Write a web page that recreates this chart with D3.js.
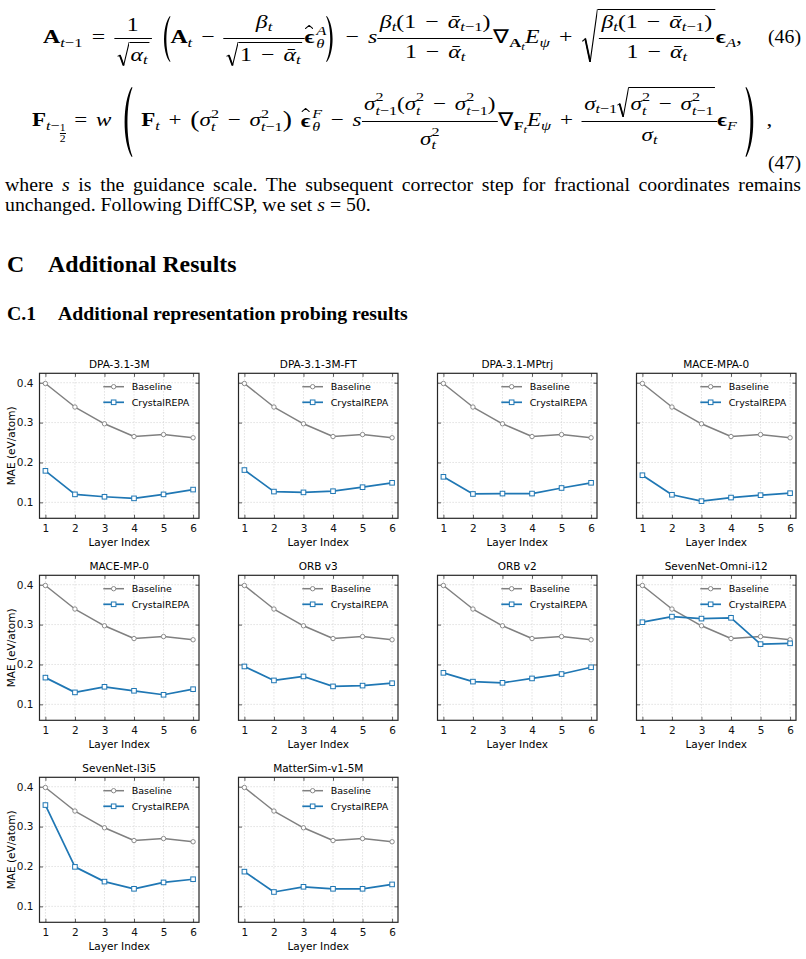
<!DOCTYPE html>
<html>
<head>
<meta charset="utf-8">
<script src="https://cdn.jsdelivr.net/npm/d3@7"></script>
<style>
  html, body { margin: 0; padding: 0; background: #fff; }
  body { width: 806px; height: 959px; position: relative; overflow: hidden;
         font-family: 'Liberation Serif', 'Times New Roman', serif; color: #000; }
  .tx { position: absolute; white-space: nowrap; font-size: 19.8px; line-height: 1.2; }
  .h1 { font-size: 23.8px; font-weight: bold; }
  .h2 { font-size: 19.8px; font-weight: bold; }
  .eq { position: absolute; white-space: nowrap; font-size: 19px; line-height: 1; word-spacing: 2.5px;
        transform-origin: 0 0; }
  .eq i { font-style: italic; }
  .eq b { font-weight: bold; font-style: normal; }
  .bl { display: inline-block; width: 0; height: 0; vertical-align: baseline; }
  .sb { font-size: 70%; vertical-align: -0.25em; word-spacing: 0; }
  .sb2 { font-size: 78%; vertical-align: -0.25em; }
  .ss { display: inline-block; font-size: 70%; line-height: 1; vertical-align: -0.35em; text-align: left; word-spacing: 0; }
  .ss > span { display: block; }
  .hat { position: relative; display: inline-block; margin-right: 1.5px; }
  .hat > .hc { position: absolute; left: 50%; top: -0.12em; width: 0.36em; height: 0.2em; margin-left: -0.18em;
               background-repeat: no-repeat; background-size: 100% 100%; }
  .fr { display: inline-block; vertical-align: 0px; text-align: center; }
  .fr > .n { display: block; border-bottom: 0.8px solid #000; padding: 0 2px 4px; line-height: 1; }
  .fr > .d { display: block; padding: 3px 2px 0; line-height: 1; }
  .tfr { display: inline-flex; flex-direction: column; font-size: 72%; line-height: 1; vertical-align: -0.1em; text-align: center; }
  .tfr > span:first-child { border-bottom: 0.6px solid #000; }
  .rad { display: inline-block; padding-left: 10px; background-repeat: no-repeat;
         background-position: 0 0; background-size: 10px 100%; }
  .rad.big { padding-left: 13px; background-size: 13px 100%; }
  .ri { display: inline-block; border-top: 0.8px solid #000; padding: 2px 1px 0 1px; }
  .bp { display: inline-block; vertical-align: middle; background-repeat: no-repeat; background-size: 100% 100%; }
  .mp { font-size: 120%; vertical-align: -0.05em; }
  #fig { position: absolute; left: 0; top: 0; }
</style>
</head>
<body>
<div id="eq46" class="eq"></div>
<div id="eq47" class="eq"></div>
<div id="n46" class="tx">(46)</div>
<div id="n47" class="tx">(47)</div>
<div id="p1" class="tx">where <i>s</i> is the guidance scale. The subsequent corrector step for fractional coordinates remains</div>
<div id="p2" class="tx">unchanged. Following DiffCSP, we set <i>s</i> = 50.</div>
<div id="h1a" class="tx h1">C</div>
<div id="h1b" class="tx h1">Additional Results</div>
<div id="h2a" class="tx h2">C.1</div>
<div id="h2b" class="tx h2">Additional representation probing results</div>
<svg id="fig" width="806" height="959"></svg>
<script>
// ---- data ----
const layers = [1, 2, 3, 4, 5, 6];
const yTicks = [0.1, 0.2, 0.3, 0.4];
const models = ['DPA-3.1-3M', 'DPA-3.1-3M-FT', 'DPA-3.1-MPtrj', 'MACE-MPA-0',
                'MACE-MP-0', 'ORB v3', 'ORB v2', 'SevenNet-Omni-i12',
                'SevenNet-l3i5', 'MatterSim-v1-5M'];
const seriesNames = ['Baseline', 'CrystalREPA'];

const baselineMae = [0.398, 0.339, 0.297, 0.265, 0.270, 0.262];

const repaDpa3m = [0.179, 0.120, 0.114, 0.110, 0.120, 0.132];
const repaDpa3mFt = [0.181, 0.127, 0.125, 0.128, 0.138, 0.149];
const repaDpaMptrj = [0.164, 0.121, 0.122, 0.122, 0.136, 0.149];
const repaMaceMpa0 = [0.168, 0.119, 0.103, 0.112, 0.118, 0.123];
const repaMaceMp0 = [0.167, 0.130, 0.144, 0.134, 0.124, 0.138];
const repaOrbV3 = [0.195, 0.160, 0.170, 0.145, 0.147, 0.153];
const repaOrbV2 = [0.179, 0.157, 0.154, 0.165, 0.176, 0.193];
const repaSevenOmni = [0.306, 0.320, 0.315, 0.317, 0.251, 0.253];
const repaSevenL3i5 = [0.354, 0.199, 0.162, 0.144, 0.160, 0.168];
const repaMatterSim = [0.187, 0.136, 0.149, 0.144, 0.144, 0.155];

const repaSeries = [repaDpa3m, repaDpa3mFt, repaDpaMptrj, repaMaceMpa0, repaMaceMp0,
                    repaOrbV3, repaOrbV2, repaSevenOmni, repaSevenL3i5, repaMatterSim];

// ---- equations ----
const I = s => `<i>${s}</i>`;
const B = s => `<b>${s}</b>`;
const sb = s => `<span class="sb">${s}</span>`;
const sb2 = s => `<span class="sb2">${s}</span>`;
const ss = (hi, lo) => `<span class="ss"><span>${hi}</span><span>${lo}</span></span>`;
const fr = (n, d) => `<span class="fr"><span class="n">${n}</span><span class="d">${d}</span></span>`;
const rad = (s, cls) => `<span class="rad ${cls || ''}"><span class="ri">${s}</span></span>`;
const par = (side, h, w) => `<span class="bp ${side}" style="height:${h}px;width:${w}px"></span>`;
const tfr = (n, d) => `<span class="tfr"><span>${n}</span><span>${d}</span></span>`;
const hat = s => `<span class="hat">${s}<span class="hc"></span></span>`;
const M = ' − ', P = ' + ';
const t = I('t'), tm1 = I('t') + '−1';
const abar = I('ᾱ');
const sig = I('σ');
const s2t = sig + ss('2', t), s2tm1 = sig + ss('2', tm1);

const betaFrac = fr(I('β') + sb(t) + '(1' + M + abar + sb(tm1) + ')', '1' + M + abar + sb(t));

document.getElementById('eq46').innerHTML = [
  B('A'), sb(tm1), ' = ',
  fr('1', rad(I('α') + sb(t))), ' ',
  par('l', 46, 8),
  B('A'), sb(t), M,
  fr(I('β') + sb(t), rad('1' + M + abar + sb(t))),
  hat(B('ϵ')), ss(I('A'), I('θ')),
  par('r', 46, 8), M, I('s'),
  betaFrac,
  '∇', sb(B('A') + sb2(t)), I('E'), sb(I('ψ')), P,
  rad(betaFrac, 'big'),
  B('ϵ'), sb(I('A')), ','
].join('');

document.getElementById('eq47').innerHTML = [
  B('F'), sb(t + '−' + tfr('1', '2')), ' = ', I('w'), ' ',
  par('l', 70, 10), ' ',
  B('F'), sb(t), P,
  '<span class="mp">(</span>', s2t, M, s2tm1, '<span class="mp">)</span>', ' ',
  hat(B('ϵ')), ss(I('F'), I('θ')), M, I('s'),
  fr(s2tm1 + '(' + s2t + M + s2tm1 + ')', s2t),
  '∇', sb(B('F') + sb2(t)), I('E'), sb(I('ψ')), P,
  fr(sig + sb(tm1) + rad(s2t + M + s2tm1), sig + sb(t)),
  B('ϵ'), sb(I('F')), ' ',
  par('r', 70, 10), ' ,'
].join('');

const svgUrl = s => `url("data:image/svg+xml,${encodeURIComponent(s)}")`;
const radSvg = "<svg xmlns='http://www.w3.org/2000/svg' viewBox='0 0 10 100' preserveAspectRatio='none'>" +
  "<path d='M0.6,60 L2.4,55 L5.4,98 L9.9,0.5' fill='none' stroke='black' stroke-width='0.9' vector-effect='non-scaling-stroke'/>" +
  "<path d='M2.4,55 L5.4,98' stroke='black' stroke-width='1.5' vector-effect='non-scaling-stroke'/></svg>";
const lpSvg = "<svg xmlns='http://www.w3.org/2000/svg' viewBox='0 0 10 100' preserveAspectRatio='none'>" +
  "<path d='M9,0.5 C1.5,22 1.5,78 9,99.5 L10,99.5 C4.3,78 4.3,22 10,0.5 Z' fill='black'/></svg>";
const rpSvg = "<svg xmlns='http://www.w3.org/2000/svg' viewBox='0 0 10 100' preserveAspectRatio='none'>" +
  "<path d='M1,0.5 C8.5,22 8.5,78 1,99.5 L0,99.5 C5.7,78 5.7,22 0,0.5 Z' fill='black'/></svg>";
const hatSvg = "<svg xmlns='http://www.w3.org/2000/svg' viewBox='0 0 10 6' preserveAspectRatio='none'>" +
  "<path d='M0.5,5.5 L5,0.6 L9.5,5.5' fill='none' stroke='black' stroke-width='0.9' vector-effect='non-scaling-stroke'/></svg>";
document.querySelectorAll('.rad').forEach(e => e.style.backgroundImage = svgUrl(radSvg));
document.querySelectorAll('.bp.l').forEach(e => e.style.backgroundImage = svgUrl(lpSvg));
document.querySelectorAll('.bp.r').forEach(e => e.style.backgroundImage = svgUrl(rpSvg));
document.querySelectorAll('.hc').forEach(e => e.style.backgroundImage = svgUrl(hatSvg));

function marker(el) {
  let m = el.querySelector(':scope > .bl');
  if (!m) { m = document.createElement('span'); m.className = 'bl'; el.appendChild(m); }
  return m;
}

// put fraction bars on the math axis
function alignFracs(el, fs) {
  const m = marker(el);
  for (let pass = 0; pass < 3; pass++) {
    el.querySelectorAll('.fr').forEach(f => {
      const base = m.getBoundingClientRect().bottom;
      const bar = f.querySelector(':scope > .n').getBoundingClientRect().bottom;
      const cur = parseFloat(f.style.verticalAlign) || 0;
      f.style.verticalAlign = (cur + bar - (base - 0.25 * fs)) + 'px';
    });
  }
}

function place(id, x, by, right) {
  const el = document.getElementById(id);
  if (right) el.style.right = x + 'px'; else el.style.left = x + 'px';
  el.style.top = '0px';
  const m = marker(el);
  const b = m.getBoundingClientRect().bottom - el.getBoundingClientRect().top;
  el.style.top = (by - b) + 'px';
}

// stretch an equation horizontally to span a given width
function fitWidth(id, w) {
  const el = document.getElementById(id);
  const nat = el.getBoundingClientRect().width;
  el.style.transform = `scaleX(${w / nat})`;
}

// justify a single line by setting word spacing
function justify(id, w) {
  const el = document.getElementById(id);
  const nat = el.getBoundingClientRect().width;
  const gaps = el.textContent.trim().split(/\s+/).length - 1;
  el.style.wordSpacing = ((w - nat) / gaps) + 'px';
}

alignFracs(document.getElementById('eq46'), 19);
alignFracs(document.getElementById('eq47'), 19);
place('eq46', 43, 43.3);
place('eq47', 31.7, 126.7);
fitWidth('eq46', 742 - 43);
fitWidth('eq47', 772 - 31.7);
place('n46', 5, 42.5, true);
place('n47', 5, 169, true);
place('p1', 5, 190.5);
justify('p1', 796);
place('p2', 5, 210.5);
place('h1a', 7, 272);
place('h1b', 48, 272);
place('h2a', 7, 320);
place('h2b', 58, 320);

// ---- charts ----
const svg = d3.select('#fig');
const pw = 159.5, ph = 145;
const gray = '#808080', blue = '#1f77b4';
const font = 'DejaVu Sans';

const x = d3.scaleLinear().domain([0.8, 6.2]).range([0, pw]);
const y = d3.scaleLinear().domain([0.06, 0.4236]).range([ph, 0]);
const line = d3.line().x((d, j) => x(layers[j])).y(d => y(d));

function styleAxis(a) {
  a.select('.domain').remove();
  a.selectAll('.tick line').attr('stroke', '#333').attr('stroke-width', 0.8);
  a.selectAll('.tick text').attr('font-family', font).attr('font-size', 10.5).attr('fill', '#111');
}

models.forEach((name, i) => {
  const col = i % 4, row = Math.floor(i / 4);
  const g = svg.append('g')
    .attr('transform', `translate(${39.5 + 199 * col},${373.3 + 202 * row})`);

  // grid
  g.append('g').selectAll('line').data(yTicks).join('line')
    .attr('x1', 0).attr('x2', pw).attr('y1', d => y(d)).attr('y2', d => y(d))
    .attr('stroke', '#c8c8c8').attr('stroke-width', 0.7).attr('stroke-dasharray', '1.2,1.8');
  g.append('g').selectAll('line').data(layers).join('line')
    .attr('y1', 0).attr('y2', ph).attr('x1', d => x(d)).attr('x2', d => x(d))
    .attr('stroke', '#c8c8c8').attr('stroke-width', 0.7).attr('stroke-dasharray', '1.2,1.8');

  // axes, ticks pointing in
  g.append('g').attr('transform', `translate(0,${ph})`)
    .call(d3.axisBottom(x).tickValues(layers).tickFormat(d3.format('d'))
      .tickSizeInner(-3.5).tickSizeOuter(0).tickPadding(6.5))
    .call(styleAxis);
  g.append('g')
    .call(d3.axisTop(x).tickValues(layers).tickSizeInner(-3.5).tickSizeOuter(0).tickFormat(''))
    .call(styleAxis);
  g.append('g')
    .call(d3.axisLeft(y).tickValues(yTicks).tickSizeInner(-3.5).tickSizeOuter(0)
      .tickPadding(6).tickFormat(col === 0 ? d3.format('.1f') : ''))
    .call(styleAxis);
  g.append('g').attr('transform', `translate(${pw},0)`)
    .call(d3.axisRight(y).tickValues(yTicks).tickSizeInner(-3.5).tickSizeOuter(0).tickFormat(''))
    .call(styleAxis);

  // series
  g.append('path').datum(baselineMae).attr('d', line)
    .attr('fill', 'none').attr('stroke', gray).attr('stroke-width', 1.5).attr('stroke-linejoin', 'round');
  g.append('g').selectAll('circle').data(baselineMae).join('circle')
    .attr('cx', (d, j) => x(layers[j])).attr('cy', d => y(d)).attr('r', 2.2)
    .attr('fill', '#fff').attr('stroke', gray).attr('stroke-width', 0.9);

  g.append('path').datum(repaSeries[i]).attr('d', line)
    .attr('fill', 'none').attr('stroke', blue).attr('stroke-width', 1.7).attr('stroke-linejoin', 'round');
  g.append('g').selectAll('rect').data(repaSeries[i]).join('rect')
    .attr('x', (d, j) => x(layers[j]) - 2.3).attr('y', d => y(d) - 2.3)
    .attr('width', 4.6).attr('height', 4.6)
    .attr('fill', '#fff').attr('stroke', blue).attr('stroke-width', 1);

  // frame
  g.append('rect').attr('width', pw).attr('height', ph)
    .attr('fill', 'none').attr('stroke', '#262626').attr('stroke-width', 1.2);

  // title & labels
  g.append('text').attr('x', pw / 2).attr('y', -5.5).attr('text-anchor', 'middle')
    .attr('font-family', font).attr('font-size', 10.5).text(name);
  g.append('text').attr('x', pw / 2).attr('y', ph + 27.7).attr('text-anchor', 'middle')
    .attr('font-family', font).attr('font-size', 10.5).text('Layer Index');
  if (col === 0) {
    g.append('text').attr('transform', `translate(${11.5 - 39.5},${ph / 2}) rotate(-90)`)
      .attr('dy', '0.35em').attr('text-anchor', 'middle')
      .attr('font-family', font).attr('font-size', 10.5).text('MAE (eV/atom)');
  }

  // legend
  const lg = g.append('g').attr('transform', `translate(${pw - 95.7},13.4)`);
  seriesNames.forEach((s, k) => {
    const c = k === 0 ? gray : blue;
    const e = lg.append('g').attr('transform', `translate(0,${k * 15.6})`);
    e.append('line').attr('x1', 0).attr('x2', 20.7)
      .attr('stroke', c).attr('stroke-width', k === 0 ? 1.5 : 1.7);
    if (k === 0) {
      e.append('circle').attr('cx', 10.35).attr('r', 2.2)
        .attr('fill', '#fff').attr('stroke', c).attr('stroke-width', 0.9);
    } else {
      e.append('rect').attr('x', 10.35 - 2.3).attr('y', -2.3).attr('width', 4.6).attr('height', 4.6)
        .attr('fill', '#fff').attr('stroke', c).attr('stroke-width', 1);
    }
    e.append('text').attr('x', 28.4).attr('dy', '0.35em')
      .attr('font-family', font).attr('font-size', 9.5).text(s);
  });
});
</script>
</body>
</html>
